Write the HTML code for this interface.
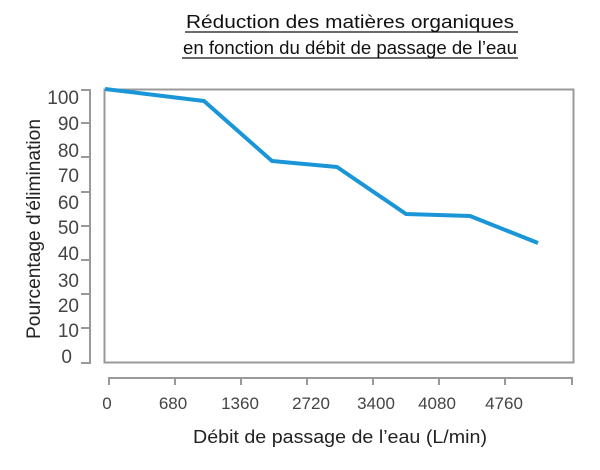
<!DOCTYPE html>
<html><head><meta charset="utf-8"><style>
body{margin:0;background:#fff;width:600px;height:465px;overflow:hidden}
</style></head><body>
<svg width="600" height="465" xmlns="http://www.w3.org/2000/svg" font-family="Liberation Sans, sans-serif">
<text x="186" y="28" font-size="18" fill="#111" textLength="328" lengthAdjust="spacingAndGlyphs">Réduction des matières organiques</text>
<line x1="185" y1="32" x2="518" y2="32" stroke="#111" stroke-width="1.2"/>
<text x="183" y="54" font-size="18" fill="#111" textLength="334" lengthAdjust="spacingAndGlyphs">en fonction du débit de passage de l’eau</text>
<line x1="182" y1="58" x2="518" y2="58" stroke="#111" stroke-width="1.2"/>
<rect x="104.5" y="89.5" width="469" height="273" fill="none" stroke="#999" stroke-width="2"/>
<g stroke="#999" stroke-width="2" fill="none">
<path d="M81 90 H90 V363 H81 M81 123H90 M81 157H90 M81 192H90 M81 226H90 M81 260H90 M81 294H90 M81 328H90"/>
<path d="M109 385 V378 H572 V385 M175 378V385 M241 378V385 M307 378V385 M373 378V385 M439 378V385 M505 378V385"/>
</g>
<g font-size="19" fill="#444" text-anchor="end">
<text x="79" y="104">100</text><text x="79" y="130">90</text><text x="79" y="157">80</text><text x="79" y="182">70</text><text x="79" y="209">60</text><text x="79" y="234">50</text><text x="79" y="260">40</text><text x="79" y="287">30</text><text x="79" y="312">20</text><text x="79" y="337">10</text><text x="72" y="363">0</text>
</g>
<g font-size="17" fill="#444" text-anchor="middle">
<text x="107" y="409">0</text><text x="173" y="409">680</text><text x="240" y="409">1360</text><text x="311" y="409">2720</text><text x="376" y="409">3400</text><text x="437" y="409">4080</text><text x="504" y="409">4760</text>
</g>
<text x="193" y="443" font-size="18" fill="#222" textLength="294" lengthAdjust="spacingAndGlyphs">Débit de passage de l’eau (L/min)</text>
<text transform="translate(40,229) rotate(-90)" text-anchor="middle" font-size="19" fill="#222" textLength="220" lengthAdjust="spacingAndGlyphs">Pourcentage d'élimination</text>
<polyline points="105,89 204,101 272,161 337,167 406,214 470,216 538,243" fill="none" stroke="#1a96d8" stroke-width="4" stroke-linejoin="round"/>
</svg>
</body></html>
